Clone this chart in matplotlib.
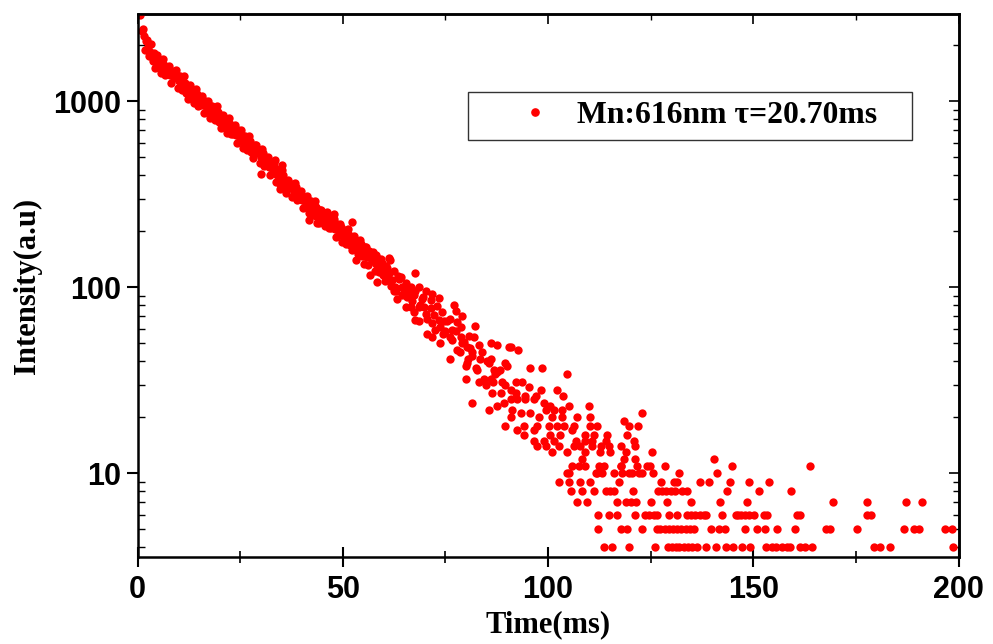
import numpy as np
import matplotlib
matplotlib.use("Agg")
import matplotlib.pyplot as plt
from matplotlib.lines import Line2D
from matplotlib.ticker import MultipleLocator, LogLocator, NullFormatter, FixedLocator

# early decay, dense band (time in ms, intensity in counts)
early_t = [0.5, 1.0, 1.5, 2.0, 2.5, 3.0, 3.5, 4.0, 4.5, 5.0, 5.5, 6.0, 6.5, 7.0, 7.5, 8.0,
           8.5, 9.0, 9.5, 10.0, 10.5, 11.0, 11.5, 12.0, 12.5, 13.0, 13.5, 14.0, 14.5, 15.0,
           15.5, 16.0, 16.5, 17.0, 17.5, 18.0, 18.5, 19.0, 19.5, 20.0, 20.5, 21.0, 21.5, 22.0,
           22.5, 23.0, 23.5, 24.0, 24.5, 25.0, 25.5, 26.0, 26.5, 27.0, 27.5, 28.0, 28.5, 29.0,
           29.5, 30.0, 30.5, 31.0, 31.5, 32.0, 32.5, 33.0, 33.5, 34.0, 34.5, 35.0, 35.5, 36.0,
           36.5, 37.0, 37.5, 38.0, 38.5, 39.0, 39.5, 40.0, 40.5, 41.0, 41.5, 42.0, 42.5, 43.0,
           43.5, 44.0, 44.5, 45.0, 45.5, 46.0, 46.5, 47.0, 47.5, 48.0, 48.5, 49.0, 49.5, 50.0,
           50.5, 51.0, 51.5, 52.0, 52.5, 53.0, 53.5, 54.0, 54.5, 55.0, 55.5, 56.0, 56.5, 57.0,
           57.5, 58.0, 58.5, 59.0, 59.5, 60.0, 60.5, 61.0]
early_i = [2900, 2380, 2250, 2120, 1960, 1850, 1760, 1820, 1690, 1610, 1650, 1530, 1570, 1450,
           1510, 1390, 1450, 1340, 1380, 1290, 1330, 1230, 1260, 1150, 1210, 1110, 1140, 1050,
           1100, 990, 1030, 960, 1000, 910, 955, 875, 925, 835, 880, 800, 830, 765, 800, 725,
           760, 690, 735, 660, 700, 635, 660, 600, 645, 575, 615, 560, 585, 530, 550, 500, 525,
           470, 490, 445, 465, 420, 440, 400, 415, 380, 400, 358, 375, 340, 360, 325, 345, 308,
           325, 295, 305, 282, 295, 270, 286, 258, 270, 248, 262, 236, 250, 228, 240, 216, 230,
           206, 218, 198, 210, 188, 198, 182, 192, 175, 186, 168, 178, 160, 170, 152, 164, 146,
           156, 138, 150, 133, 142, 126, 136, 120, 130, 114]

# second set of early samples, spread wider around the band
early2_t = [1.25, 1.75, 2.25, 2.75, 3.25, 3.75, 4.25, 4.75, 5.25, 5.75, 6.25, 6.75, 7.25, 7.75,
            8.25, 8.75, 9.25, 9.75, 10.25, 10.75, 11.25, 11.75, 12.25, 12.75, 13.25, 13.75,
            14.25, 14.75, 15.25, 15.75, 16.25, 16.75, 17.25, 17.75, 18.25, 18.75, 19.25, 19.75,
            20.25, 20.75, 21.25, 21.75, 22.25, 22.75, 23.25, 23.75, 24.25, 24.75, 25.25, 25.75,
            26.25, 26.75, 27.25, 27.75, 28.25, 28.75, 29.25, 29.75, 30.25, 30.75, 31.25, 31.75,
            32.25, 32.75, 33.25, 33.75, 34.25, 34.75, 35.25, 35.75, 36.25, 36.75, 37.25, 37.75,
            38.25, 38.75, 39.25, 39.75, 40.25, 40.75, 41.25, 41.75, 42.25, 42.75, 43.25, 43.75,
            44.25, 44.75, 45.25, 45.75, 46.25, 46.75, 47.25, 47.75, 48.25, 48.75, 49.25, 49.75,
            50.25, 50.75, 51.25, 51.75, 52.25, 52.75, 53.25, 53.75, 54.25, 54.75, 55.25, 55.75,
            56.25, 56.75, 57.25, 57.75, 58.25, 58.75, 59.25, 59.75, 60.25, 60.75, 61.25, 61.75]
early2_i = [2460, 1900, 2140, 1750, 2040, 1645, 1510, 1775, 1665, 1420, 1690, 1385, 1395, 1555,
            1255, 1435, 1470, 1180, 1375, 1155, 1370, 1115, 1030, 1225, 1150, 980, 1165, 950,
            960, 1070, 865, 985, 1010, 810, 940, 790, 940, 770, 715, 845, 795, 680, 810, 665,
            670, 745, 600, 685, 700, 560, 650, 550, 655, 535, 495, 585, 550, 465, 555, 450,
            452, 500, 400, 455, 465, 370, 428, 359, 425, 348, 321, 380, 358, 306, 363, 296,
            298, 329, 266, 303, 311, 250, 291, 244, 290, 239, 222, 262, 248, 213, 254, 208,
            209, 232, 187, 214, 219, 175, 203, 172, 205, 169, 158, 188, 177, 151, 180, 147,
            148, 165, 132, 151, 154, 123, 143, 121, 142, 117, 108, 127, 120, 102]

# points lying off the main band before 62 ms
stray_t = [30.0, 33.6, 34.8, 35.2, 41.7, 43.8, 47.8, 52.3, 53.1, 55.1, 56.7, 58.4, 61.2, 58.0]
stray_i = [408, 482, 339, 453, 231, 222, 249, 225, 140, 134, 116, 107, 143, 149]

# 62 - 91 ms
mid_t = [61.6, 62.4, 67.7, 62.0, 63.7, 65.3, 66.5, 62.8, 64.5, 66.1, 67.3, 68.5, 70.2, 71.8,
         73.4, 63.3, 65.7, 69.3, 71.4, 69.8, 65.3, 73.0, 77.1, 77.5, 67.3, 70.2, 72.2, 74.2,
         79.1, 67.7, 68.5, 71.8, 74.6, 76.2, 77.9, 82.3, 70.6, 71.8, 73.8, 75.0, 73.8, 76.7,
         78.7, 76.2, 78.7, 80.7, 81.9, 79.1, 80.3, 83.2, 86.0, 87.6, 90.5, 77.9, 76.2, 81.1,
         81.5, 84.0, 86.0, 80.3, 85.2, 79.9, 82.7, 86.8, 87.2, 88.4, 89.6, 79.9, 83.2, 84.8,
         86.0, 88.8, 86.4, 89.2, 81.5, 85.6, 87.6, 89.4, 90.0, 64.1, 63.0, 64.9, 66.9, 68.9,
         62.5, 63.5, 64.5, 65.5, 66.5, 67.5, 68.5, 69.5, 70.5, 71.5, 72.5, 73.5, 74.5, 75.5,
         76.5, 77.5, 78.5, 79.5, 80.5, 81.5, 82.5, 83.5, 84.5, 85.5, 86.5, 87.5, 88.5, 89.5]
mid_i = [141, 123, 120, 109, 111, 105, 100, 100, 100, 95, 91, 101, 96, 92,
         88, 87, 89, 87, 85, 78, 78, 79, 80, 75, 74, 72, 71, 74,
         70, 67, 66, 64, 66, 68, 65, 62, 56, 54, 50, 58, 61, 59,
         61, 54, 54, 55, 54, 50, 48, 49, 50, 49, 48, 46, 41, 47,
         43, 45, 41, 39, 40, 38, 36, 36, 34, 36, 39, 32, 31, 30,
         32, 31, 27, 24, 24, 22, 23, 18, 38, 114, 96, 93, 84, 80,
         95, 115, 91, 100, 78, 95, 78, 89, 68, 77, 59, 67, 56, 66,
         52, 58, 45, 51, 41, 45, 37, 41, 32, 39, 31, 35, 27, 30]

# 91 - 120 ms
late_t = [90.9, 92.6, 95.7, 98.6, 104.7, 92.3, 93.7, 90.9, 95.3, 98.2, 102.2, 92.1, 94.5, 97.0,
          103.7, 90.9, 92.5, 94.5, 96.5, 99.0, 100.6, 105.1, 109.9, 91.3, 93.3, 95.7, 99.4,
          101.4, 103.4, 90.9, 97.8, 101.0, 103.4, 107.1, 110.3, 118.5, 92.5, 94.1, 97.4, 100.2,
          102.2, 103.9, 106.3, 110.3, 111.9, 119.7, 94.1, 96.5, 100.6, 103.0, 105.9, 109.1,
          111.2, 114.4, 96.5, 99.0, 101.4, 106.7, 109.1, 110.8, 114.0, 119.3, 97.4, 99.4,
          102.6, 106.3, 107.9, 110.8, 112.8, 114.8, 117.7, 101.0, 104.5, 108.9, 112.6, 115.2,
          118.9, 108.3, 118.5, 105.9, 107.5, 109.1, 112.4, 113.6, 117.7, 105.1, 111.6, 113.2,
          116.0, 118.1, 119.7, 102.6, 105.1, 107.9, 110.3, 117.2, 105.5, 108.3, 111.2, 114.0,
          115.2, 116.0, 107.1, 109.5, 116.8, 118.9, 112.1, 114.8, 116.8, 112.1, 117.7, 119.3,
          113.6, 115.6, 119.8, 104.7, 112.0, 117.8, 121.7]
late_i = [48, 46, 37, 37, 34, 31, 31, 28, 29, 28, 28, 27, 26, 26,
          26, 25, 25, 25, 25, 24, 23, 23, 23, 22, 21, 21, 22,
          22, 22, 20, 20, 20, 20, 20, 20, 19, 17, 18, 18, 18,
          18, 18, 18, 18, 18, 18, 16, 17, 16, 16, 17, 16,
          16, 16, 15, 15, 15, 15, 15, 15, 15, 16, 14, 14,
          14, 14, 14, 14, 14, 14, 14, 13, 13, 13, 13, 13,
          13, 12, 12, 11, 11, 11, 11, 11, 11, 10, 10, 10,
          10, 10, 10, 9, 9, 9, 9, 9, 8, 8, 8, 8,
          8, 8, 7, 7, 7, 7, 6, 6, 6, 5, 5, 5,
          4, 4, 4, 10, 10, 11, 11]

# tail after 120 ms, counts are whole numbers
tail_4 = [126.0, 129.2, 130.2, 131.2, 132.0, 133.0, 134.0, 135.0, 136.2, 138.6, 140.8, 143.3,
          145.0, 147.3, 149.2, 153.0, 154.6, 155.6, 157.0, 158.2, 159.0, 161.5, 162.6, 164.4,
          179.3, 180.8, 183.4, 198.6]
tail_5 = [122.9, 126.5, 127.3, 128.4, 129.4, 130.4, 131.4, 132.5, 133.5, 134.5, 135.6, 139.6,
          141.6, 143.2, 147.9, 150.8, 152.8, 155.7, 160.1, 167.8, 168.8, 175.2, 186.7, 189.1,
          190.3, 196.6, 198.5]
tail_6 = [121.3, 123.5, 124.6, 125.7, 126.6, 129.4, 131.5, 133.8, 134.8, 135.9, 137.0, 137.9,
          138.5, 142.3, 145.7, 146.3, 147.1, 148.1, 148.9, 150.1, 152.7, 153.4, 160.7, 161.5,
          177.8, 178.6]
tail_7 = [120.1, 121.4, 125.0, 128.9, 134.9, 141.9, 148.4, 169.5, 177.8, 187.3, 191.2]
tail_8 = [120.6, 126.7, 127.7, 128.8, 129.9, 131.0, 132.7, 133.8, 143.5, 151.4, 159.2]
tail_9 = [127.6, 130.6, 131.3, 137.1, 139.3, 144.3, 148.9, 153.8]
tail_10 = [120.5, 122.1, 123.0, 125.6, 132.0, 141.2]
tail_11 = [124.0, 124.8, 128.4, 144.9, 163.9]
tail_12 = [121.3, 140.4]
tail_hi_t = [125.4, 121.1, 120.9, 121.9, 122.9]
tail_hi_i = [13, 14, 15, 18, 21]

tail_rows = {4: tail_4, 5: tail_5, 6: tail_6, 7: tail_7, 8: tail_8, 9: tail_9,
             10: tail_10, 11: tail_11, 12: tail_12}

legend_label = "Mn:616nm \u03c4=20.70ms"

t_all = early_t + early2_t + stray_t + mid_t + late_t + tail_hi_t
i_all = early_i + early2_i + stray_i + mid_i + late_i + tail_hi_i
for level, times in tail_rows.items():
    t_all = t_all + times
    i_all = i_all + [level] * len(times)

fig = plt.figure(figsize=(9.93, 6.44), dpi=100)
ax = fig.add_axes([0.1385, 0.1351, 0.8268, 0.8432])

ax.plot(t_all, i_all, 'o', color='#ff0000', ms=6, mew=0, ls='none')

ax.set_yscale('log')
ax.set_xlim(0, 200)
ax.set_ylim(3.55, 2950)

tick_font = dict(family='Liberation Sans', weight='bold', size=22)
label_font = dict(family='Liberation Serif', weight='bold', size=22)

ax.xaxis.set_major_locator(FixedLocator([0, 50, 100, 150, 200]))
ax.xaxis.set_minor_locator(MultipleLocator(25))
ax.yaxis.set_major_locator(FixedLocator([10, 100, 1000]))
ax.yaxis.set_minor_locator(LogLocator(base=10, subs=np.arange(2, 10)))
ax.yaxis.set_minor_formatter(NullFormatter())
ax.set_xticklabels(['0', '50', '100', '150', '200'], fontdict=tick_font)
ax.set_yticklabels(['10', '100', '1000'], fontdict=tick_font)

ax.tick_params(axis='x', which='major', direction='inout', length=14, width=1.5, pad=6)
ax.tick_params(axis='x', which='minor', direction='inout', length=9, width=1.2)
ax.tick_params(axis='y', which='major', direction='out', length=8, width=1.5, pad=4)
ax.tick_params(axis='y', which='minor', direction='in', length=5, width=1.0)

# mirrored axes on top and right, ticks pointing inside
top = ax.secondary_xaxis('top')
top.xaxis.set_major_locator(FixedLocator([0, 50, 100, 150, 200]))
top.xaxis.set_minor_locator(MultipleLocator(25))
top.tick_params(which='major', direction='in', length=7, width=1.2, labeltop=False)
top.tick_params(which='minor', direction='in', length=4, width=1.0)
right = ax.secondary_yaxis('right')
right.yaxis.set_major_locator(FixedLocator([10, 100, 1000]))
right.yaxis.set_minor_locator(LogLocator(base=10, subs=np.arange(2, 10)))
right.yaxis.set_minor_formatter(NullFormatter())
right.tick_params(which='major', direction='in', length=7, width=1.2, labelright=False)
right.tick_params(which='minor', direction='in', length=4, width=1.0)

for sp in list(ax.spines.values()) + [top.spines['top'], right.spines['right']]:
    sp.set_linewidth(1.8)
    sp.set_color('black')

ax.set_xlabel('Time(ms)', fontdict=label_font, labelpad=4)
ax.set_ylabel('Intensity(a.u)', fontdict=label_font, labelpad=8)

handle = Line2D([], [], marker='o', color='#ff0000', ms=5.2, ls='none')
leg = ax.legend([handle], [legend_label], loc='lower left',
                bbox_to_anchor=(0.4026, 0.768, 0.5405, 0.083), mode='expand',
                borderaxespad=0, borderpad=0.3, handlelength=3.6, handletextpad=-0.45,
                fancybox=False, framealpha=1, edgecolor='#333333',
                prop=dict(family='Liberation Serif', weight='bold', size=22.8))
leg.get_frame().set_linewidth(1.0)

fig.savefig('out.png', dpi=100)
